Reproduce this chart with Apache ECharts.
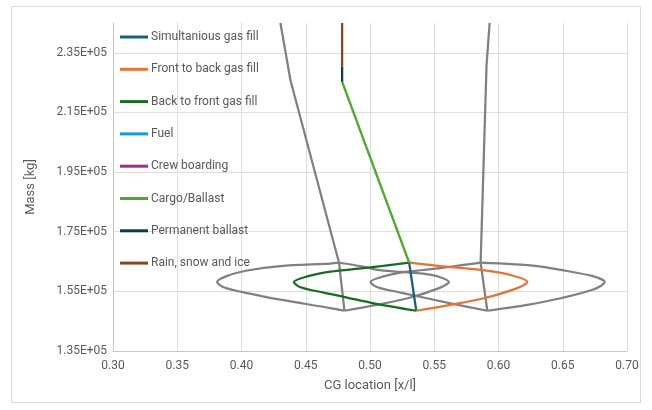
<!DOCTYPE html>
<html>
<head>
<meta charset="utf-8">
<script src="https://cdn.jsdelivr.net/npm/echarts@6/dist/echarts.min.js"></script>
<style>
  html, body { margin: 0; padding: 0; background: #ffffff; }
  #chart { width: 652px; height: 410px; }
</style>
</head>
<body>
<div id="chart"></div>
<script>
// Loading sequence: [CG location x/l, mass kg]
const simultaneousGasFill = [[0.5360, 148500], [0.5305, 164600]];
const frontToBackGasFill = [
  [0.5360, 148500], [0.5627, 150500], [0.5886, 152700], [0.6146, 156100],
  [0.6224, 158100], [0.6094, 160500], [0.5861, 162200], [0.5549, 163500],
  [0.5305, 164600]
];
const backToFrontGasFill = [
  [0.5360, 148500], [0.5030, 151000], [0.4640, 154600], [0.4459, 156400],
  [0.4407, 158100], [0.4511, 160000], [0.4692, 161600], [0.4949, 162800],
  [0.5305, 164600]
];
const fuel = [[0.5305, 164600], [0.5305, 164650]];
const crewBoarding = [[0.5305, 164600], [0.5308, 164900]];
const cargoBallast = [[0.5305, 164600], [0.4783, 225300]];
const permanentBallast = [[0.4783, 225300], [0.4783, 230300]];
const rainSnowIce = [[0.4783, 230300], [0.4783, 245000]];

// Forward CG limit and its gas fill envelopes
const forwardLimit = [[0.4303, 245000], [0.4381, 225800], [0.4759, 164600], [0.4801, 148500]];
const forwardBackToFront = [
  [0.4801, 148500], [0.4692, 149400], [0.4303, 152200], [0.4044, 154400],
  [0.3861, 156400], [0.3810, 158100], [0.3888, 160200], [0.4044, 162000],
  [0.4303, 163500], [0.4692, 164300], [0.4759, 164600]
];
const forwardFrontToBack = [
  [0.4801, 148500], [0.5051, 150500], [0.5294, 152700], [0.5538, 156100],
  [0.5614, 158100], [0.5479, 160500], [0.5245, 161500], [0.5058, 162200],
  [0.4934, 163400], [0.4759, 164600]
];

// Aft CG limit and its gas fill envelopes
const aftLimit = [[0.5931, 245000], [0.5907, 230900], [0.5861, 164600], [0.5913, 148500]];
const aftBackToFront = [
  [0.5913, 148500], [0.5627, 151000], [0.5238, 154600], [0.5058, 156400],
  [0.5004, 158100], [0.5105, 160000], [0.5292, 161600], [0.5549, 162800],
  [0.5861, 164600]
];
const aftFrontToBack = [
  [0.5913, 148500], [0.6224, 150500], [0.6484, 152700], [0.6743, 155700],
  [0.6826, 158100], [0.6741, 160000], [0.6484, 162200], [0.6302, 163500],
  [0.5861, 164600]
];

const legendNames = [
  'Simultanious gas fill', 'Front to back gas fill', 'Back to front gas fill', 'Fuel',
  'Crew boarding', 'Cargo/Ballast', 'Permanent ballast', 'Rain, snow and ice'
];
const seriesColors = ['#156082', '#E97132', '#196B24', '#0F9ED5', '#A02B93', '#4EA72E', '#0D3A4E', '#8C441E'];
const seriesData = [
  simultaneousGasFill, frontToBackGasFill, backToFrontGasFill, fuel,
  crewBoarding, cargoBallast, permanentBallast, rainSnowIce
];
const smoothed = [false, 0.3, 0.3, false, false, false, false, false];

const envelopeColor = '#808080';
const envelopes = [
  { data: forwardLimit, smooth: false },
  { data: forwardBackToFront, smooth: 0.3 },
  { data: forwardFrontToBack, smooth: 0.3 },
  { data: aftLimit, smooth: false },
  { data: aftBackToFront, smooth: 0.3 },
  { data: aftFrontToBack, smooth: 0.3 }
];

const FONT = 'Roboto';
const TEXT = '#595959';

const series = [];
envelopes.forEach((e, i) => {
  series.push({
    name: 'envelope' + i,
    type: 'line',
    data: e.data,
    smooth: e.smooth,
    symbol: 'none',
    lineStyle: { color: envelopeColor, width: 2.25 },
    itemStyle: { color: envelopeColor },
    z: 2,
    silent: true
  });
});
legendNames.forEach((n, i) => {
  series.push({
    name: n,
    type: 'line',
    data: seriesData[i],
    smooth: smoothed[i],
    symbol: 'none',
    lineStyle: { color: seriesColors[i], width: 2.25 },
    itemStyle: { color: seriesColors[i] },
    z: 3
  });
});

const chart = echarts.init(document.getElementById('chart'), null, { renderer: 'canvas' });
chart.setOption({
  animation: false,
  backgroundColor: '#ffffff',
  textStyle: { fontFamily: FONT },
  grid: { left: 113, right: 25, top: 23, bottom: 59, containLabel: false },
  legend: {
    data: legendNames,
    orient: 'vertical',
    left: 120,
    top: 30,
    padding: 0,
    icon: 'rect',
    itemWidth: 28,
    itemHeight: 3,
    itemGap: 18.3,
    textStyle: { fontFamily: FONT, fontSize: 12, color: TEXT, lineHeight: 14, padding: [0, 0, 0, -2] }
  },
  xAxis: {
    type: 'value',
    min: 0.30,
    max: 0.70,
    interval: 0.05,
    name: 'CG location [x/l]',
    nameLocation: 'middle',
    nameGap: 28,
    nameTextStyle: { fontFamily: FONT, fontSize: 13, color: TEXT },
    axisLine: { show: true, lineStyle: { color: '#c8c8c8', width: 1 } },
    axisTick: { show: false },
    axisLabel: {
      fontFamily: FONT, fontSize: 12, color: TEXT, margin: 9,
      formatter: v => v.toFixed(2)
    },
    splitLine: { show: true, lineStyle: { color: '#dedede', width: 1 } }
  },
  yAxis: {
    type: 'value',
    min: 135000,
    max: 245000,
    interval: 20000,
    name: 'Mass [kg]',
    nameLocation: 'middle',
    nameGap: 76,
    nameRotate: 90,
    nameTextStyle: { fontFamily: FONT, fontSize: 13, color: TEXT },
    axisLine: { show: true, lineStyle: { color: '#c8c8c8', width: 1 } },
    axisTick: { show: false },
    axisLabel: {
      fontFamily: FONT, fontSize: 12, color: TEXT, margin: 6,
      showMaxLabel: false,
      formatter: v => (v / 100000).toFixed(2) + 'E+05'
    },
    splitLine: { show: true, showMaxLine: false, lineStyle: { color: '#dedede', width: 1 } }
  },
  graphic: [{
    type: 'rect',
    shape: { x: 11.5, y: 6.5, width: 629, height: 396 },
    style: { fill: 'none', stroke: '#d9d9d9', lineWidth: 1 },
    silent: true,
    z: -1
  }],
  series: series
});
</script>
</body>
</html>
